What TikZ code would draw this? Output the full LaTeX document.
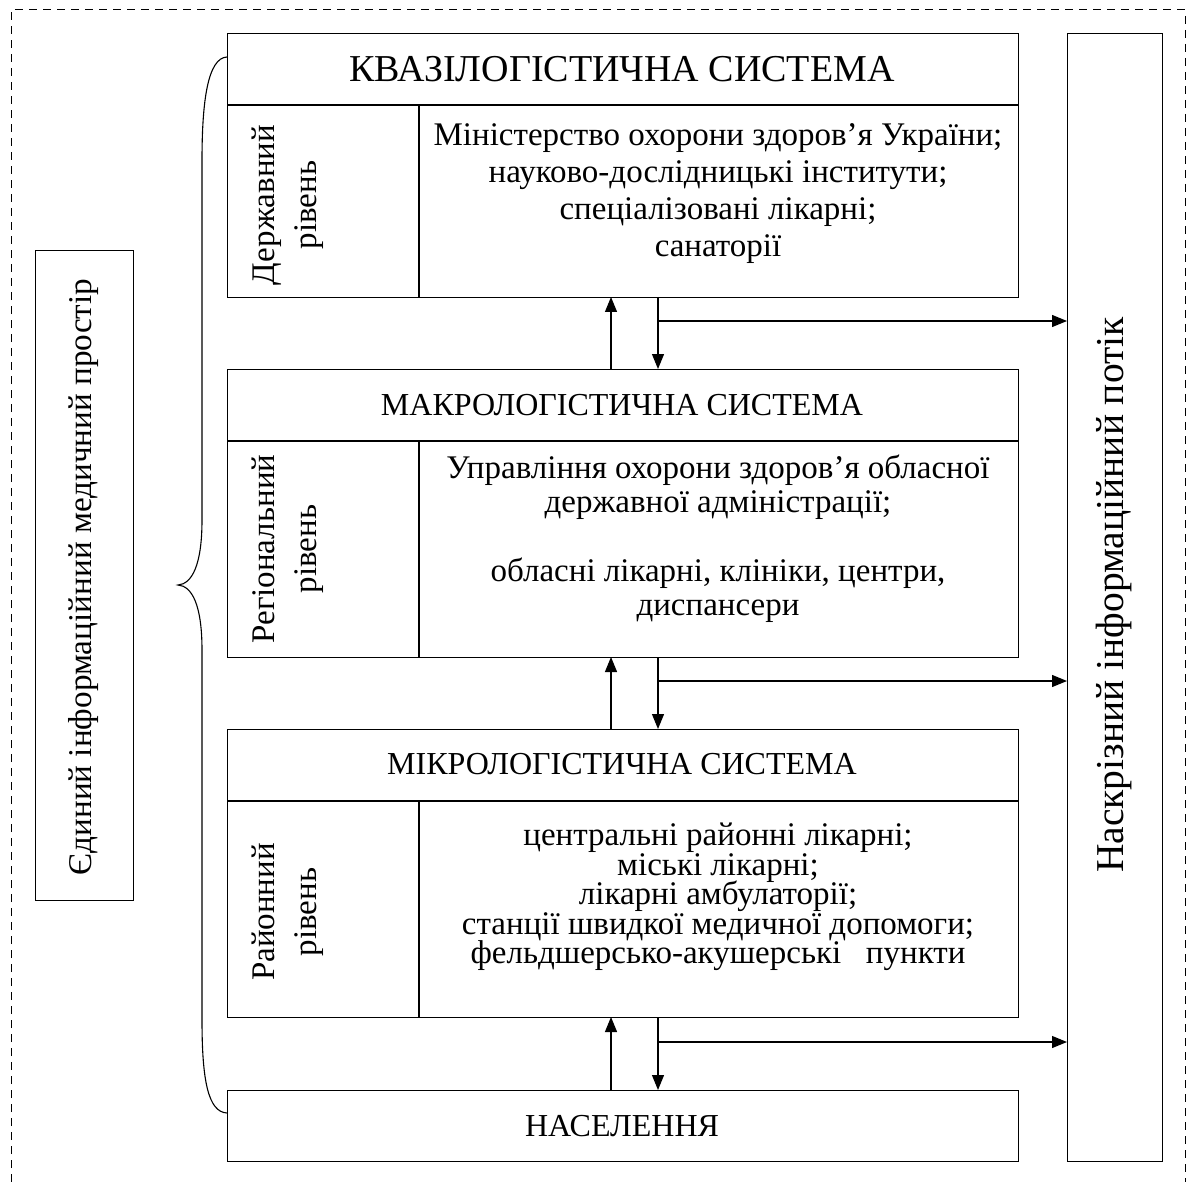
\documentclass[tikz,border=0pt]{standalone}
\usepackage{fontspec}
\setmainfont{Liberation Serif}
\usetikzlibrary{arrows.meta}
\lineskiplimit=-50pt
\tikzset{
  box/.style={draw, line width=1.2pt, inner sep=0pt, anchor=north west},
  body/.style={font=\fontsize{33}{29.5}\selectfont, align=center, inner sep=0pt},
  vlab/.style={font=\fontsize{33}{42}\selectfont, align=center, inner sep=0pt, rotate=90},
  head/.style={font=\fontsize{32}{36}\selectfont, inner sep=0pt},
  flow/.style={line width=1.2pt, -{Triangle[length=15pt,width=12pt]}},
  plain/.style={line width=1.2pt}
}
\begin{document}
\begin{tikzpicture}[x=1pt,y=-1pt]
\useasboundingbox (0,0) rectangle (1186,1182);
\lineskiplimit=-50pt
% dashed frame
\draw[line width=1pt, dash pattern=on 8pt off 6pt] (11,1182) -- (11,10) -- (1185,10) -- (1185,1182);
% quasi
\node[box, minimum width=791pt, minimum height=264pt] (q) at (227,33) {};
\draw[plain] (227,105) -- (1018,105);
\draw[plain] (419,105) -- (419,297);
\node[head, font=\fontsize{38}{42}\selectfont] (qh) at (622,69) {КВАЗІЛОГІСТИЧНА СИСТЕМА};
\node[vlab] (ql) at (288,205) {Державний\\рівень};
\node[body, font=\fontsize{33}{37}\selectfont, anchor=north] (qt) at (718,123) {Міністерство охорони здоров’я України;\\науково-дослідницькі інститути;\\спеціалізовані лікарні;\\санаторії};
% macro
\node[box, minimum width=791pt, minimum height=288pt] (m) at (227,369) {};
\draw[plain] (227,441) -- (1018,441);
\draw[plain] (419,441) -- (419,657);
\node[head] (mh) at (622,405) {МАКРОЛОГІСТИЧНА СИСТЕМА};
\node[vlab] (ml) at (288,549) {Регіональний\\рівень};
\node[body, font=\fontsize{33}{33.5}\selectfont, anchor=north] (mt) at (718,455) {Управління охорони здоров’я обласної\\державної адміністрації;\\[36pt]обласні лікарні, клініки, центри,\\диспансери};
% micro
\node[box, minimum width=791pt, minimum height=288pt] (mi) at (227,729) {};
\draw[plain] (227,801) -- (1018,801);
\draw[plain] (419,801) -- (419,1017);
\node[head] (mih) at (622,764) {МІКРОЛОГІСТИЧНА СИСТЕМА};
\node[vlab] (mil) at (288,912) {Районний\\рівень};
\node[body, anchor=north] (mit) at (718,823) {центральні районні лікарні;\\міські лікарні;\\лікарні амбулаторії;\\станції швидкої медичної допомоги;\\фельдшерсько-акушерські\ \ \ пункти};
% population
\node[box, minimum width=791pt, minimum height=71pt] (p) at (227,1090) {};
\node[head] (ph) at (622,1126) {НАСЕЛЕННЯ};
% right box
\node[box, minimum width=95pt, minimum height=1128pt] (r) at (1067,33) {};
\node[head, font=\fontsize{39.5}{44}\selectfont, rotate=90] (rt) at (1114,595) {Наскрізний інформаційний потік};
% left box
\node[box, minimum width=98pt, minimum height=650pt] (l) at (35,250) {};
\node[head, font=\fontsize{33.2}{38}\selectfont, rotate=90] (lt) at (84,577) {Єдиний інформаційний медичний простір};
% arrows
\coordinate (a1) at (611,297); \coordinate (a1b) at (611,369);
\draw[flow] (a1b) -- (a1);
\coordinate (d1) at (658,297); \coordinate (d1b) at (658,369);
\draw[flow] (d1) -- (d1b);
\coordinate (h1) at (658,321);
\draw[flow] (h1) -- (h1 -| r.west);
\coordinate (a2) at (611,657); \coordinate (a2b) at (611,729);
\draw[flow] (a2b) -- (a2);
\coordinate (d2) at (658,657); \coordinate (d2b) at (658,729);
\draw[flow] (d2) -- (d2b);
\coordinate (h2) at (658,681);
\draw[flow] (h2) -- (h2 -| r.west);
\coordinate (a3) at (611,1017); \coordinate (a3b) at (611,1090);
\draw[flow] (a3b) -- (a3);
\coordinate (d3) at (658,1017); \coordinate (d3b) at (658,1090);
\draw[flow] (d3) -- (d3b);
\coordinate (h3) at (658,1042);
\draw[flow] (h3) -- (h3 -| r.west);
% brace
\draw[line width=1.1pt] (227,57) .. controls (208,58) and (202,100) .. (202,160)
  -- (202,520) .. controls (202,565) and (192,584) .. (178,585)
  .. controls (192,586) and (202,605) .. (202,650)
  -- (202,1020) .. controls (202,1080) and (208,1112) .. (227,1113);
\end{tikzpicture}
\end{document}
